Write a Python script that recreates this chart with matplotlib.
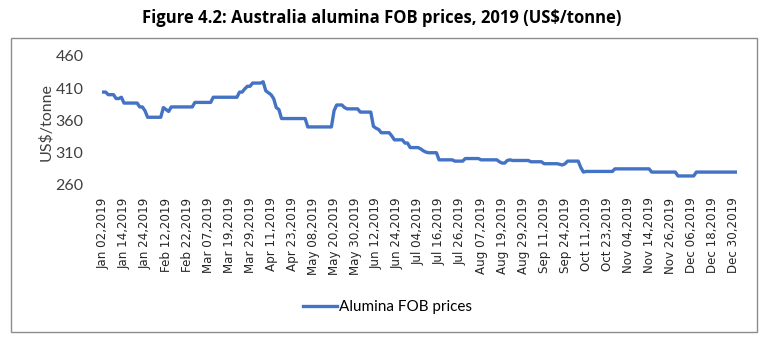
import matplotlib
matplotlib.use('Agg')
import matplotlib.pyplot as plt
from matplotlib.patches import Rectangle

# Daily Australia alumina FOB assessments, 2019 (US$/tonne), one value per trading day
prices = [
    404, 404, 400, 400, 400, 394, 394, 396, 387, 387, 387, 387, 387, 387, 381, 381, 375, 365, 365, 365,
    365, 365, 365, 380, 377, 374, 381, 381, 381, 381, 381, 381, 381, 381, 381, 388, 388, 388, 388, 388,
    388, 388, 396, 396, 396, 396, 396, 396, 396, 396, 396, 396, 404, 404, 409, 413, 413, 418, 418, 418,
    418, 420, 406, 403, 400, 394, 380, 377, 363, 363, 363, 363, 363, 363, 363, 363, 363, 363, 350, 350,
    350, 350, 350, 350, 350, 350, 350, 350, 375, 384, 384, 384, 380, 378, 378, 378, 378, 378, 373, 373,
    373, 373, 373, 351, 348, 346, 341, 341, 341, 341, 336, 330, 330, 330, 330, 325, 325, 318, 318, 318,
    318, 316, 313, 311, 310, 310, 310, 310, 299, 299, 299, 299, 299, 299, 297, 297, 297, 297, 301, 301,
    301, 301, 301, 301, 299, 299, 299, 299, 299, 299, 299, 296, 294, 294, 298, 299, 298, 298, 298, 298,
    298, 298, 298, 296, 296, 296, 296, 296, 293, 293, 293, 293, 293, 293, 292, 291, 293, 297, 297, 297,
    297, 297, 287, 280, 281, 281, 281, 281, 281, 281, 281, 281, 281, 281, 281, 285, 285, 285, 285, 285,
    285, 285, 285, 285, 285, 285, 285, 285, 285, 280, 280, 280, 280, 280, 280, 280, 280, 280, 280, 274,
    274, 274, 274, 274, 274, 274, 280, 280, 280, 280, 280, 280, 280, 280, 280, 280, 280, 280, 280, 280,
    280, 280,
]

# Category labels shown on every 8th trading day
date_labels = [
    'Jan 02,2019', 'Jan 14,2019', 'Jan 24,2019', 'Feb 12,2019', 'Feb 22,2019', 'Mar 07,2019',
    'Mar 19,2019', 'Mar 29,2019', 'Apr 11,2019', 'Apr 23,2019', 'May 08,2019', 'May 20,2019',
    'May 30,2019', 'Jun 12,2019', 'Jun 24,2019', 'Jul 04,2019', 'Jul 16,2019', 'Jul 26,2019',
    'Aug 07,2019', 'Aug 19,2019', 'Aug 29,2019', 'Sep 11,2019', 'Sep 24,2019', 'Oct 11,2019',
    'Oct 23,2019', 'Nov 04,2019', 'Nov 14,2019', 'Nov 26,2019', 'Dec 06,2019', 'Dec 18,2019',
    'Dec 30,2019',
]
label_step = 8
y_ticks = [260, 310, 360, 410, 460]

line_color = '#4472C4'
text_font = 'Lato'

fig = plt.figure(figsize=(7.64, 3.38), dpi=100)
ax = fig.add_axes([0.1331, 0.4527, 0.8316, 0.3817])

x = list(range(len(prices)))
ax.plot(x, prices, color=line_color, linewidth=2.4, solid_joinstyle='round',
        label='Alumina FOB prices')

ax.set_xlim(-0.5, len(prices) - 0.5)
ax.set_ylim(y_ticks[0], y_ticks[-1])
ax.set_yticks(y_ticks)
ax.set_yticklabels([str(v) for v in y_ticks], fontfamily=text_font, fontsize=11.5, color='#404040')
ax.set_xticks(x[::label_step])
ax.set_xticklabels(date_labels, rotation=90, fontfamily='DejaVu Sans', fontsize=8.6,
                   color='#262626')
ax.tick_params(axis='y', length=0, pad=13)
ax.tick_params(axis='x', length=0, pad=9)
for spine in ax.spines.values():
    spine.set_visible(False)

fig.text(46 / 764, 1 - 122 / 338, 'US$/tonne', rotation=90, ha='center', va='center',
         fontfamily=text_font, fontsize=11.5, color='#404040')

fig.text(0.5, 0.947, 'Figure 4.2: Australia alumina FOB prices, 2019 (US$/tonne)',
         ha='center', va='center', fontfamily='Open Sans', fontweight='bold', fontsize=12)

ax.legend(loc='center', bbox_to_anchor=(0.507, 0.092), bbox_transform=fig.transFigure,
          frameon=False, handlelength=2.2, handletextpad=0.15,
          prop={'family': text_font, 'size': 11})

# Chart area border
fig.add_artist(Rectangle((11 / 764, 1 - 332 / 338), 746 / 764, 294 / 338,
                         transform=fig.transFigure, fill=False, edgecolor='#8c8c8c',
                         linewidth=1))

fig.savefig('out.png', dpi=100)
